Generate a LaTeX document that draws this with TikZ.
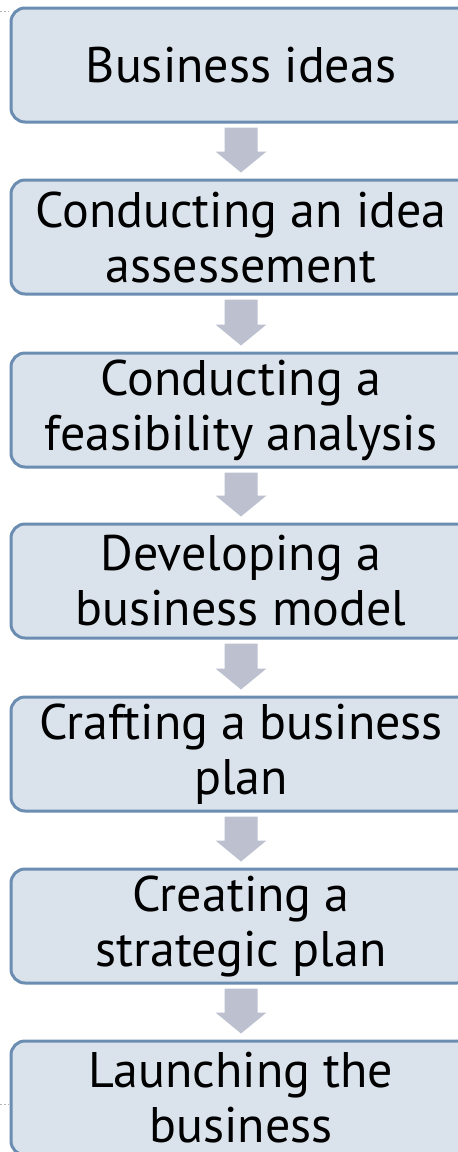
\documentclass[tikz,border=0pt]{standalone}
\usepackage{fontspec}
\setmainfont{PT Sans}
\usetikzlibrary{calc}
\definecolor{boxfill}{HTML}{DAE3EC}
\definecolor{boxline}{HTML}{6A8DB1}
\definecolor{arrowfill}{HTML}{BDC1CF}
\tikzset{
  stepbox/.style={draw=boxline, fill=boxfill, line width=3pt, rounded corners=14pt,
    minimum width=460pt, minimum height=114pt, inner sep=0pt, align=center,
    font=\fontsize{50}{55}\selectfont, text=black},
  flowfill/.style={fill=arrowfill, draw=none}
}
\newcommand\flowarrow[2]{%
  \path[flowfill] ($(#1.south)+(-16.5,-4)$) -- ($(#1.south)+(16.5,-4)$)
    -- ($(#2.north)+(16.5,27)$) -- ($(#2.north)+(25.5,27)$)
    -- ($(#2.north)+(0,6)$) -- ($(#2.north)+(-25.5,27)$)
    -- ($(#2.north)+(-16.5,27)$) -- cycle;}
\begin{document}
\begin{tikzpicture}[x=1pt,y=1pt]
\useasboundingbox (0,0) rectangle (458,-1152);
\fill[white] (0,0) rectangle (458,-1152);
\clip (0,0) rectangle (458,-1152);
\node[stepbox] (b1) at (241,-65) {Business ideas};
\node[stepbox] (b2) at (241,-237) {Conducting an idea\\assessement};
\node[stepbox] (b3) at (241,-410) {Conducting a\\feasibility analysis};
\node[stepbox] (b4) at (241,-581) {Developing a\\business model};
\node[stepbox] (b5) at (241,-754) {Crafting a business\\plan};
\node[stepbox] (b6) at (241,-926) {Creating a\\strategic plan};
\node[stepbox] (b7) at (241,-1098) {Launching the\\business};
\flowarrow{b1}{b2}
\flowarrow{b2}{b3}
\flowarrow{b3}{b4}
\flowarrow{b4}{b5}
\flowarrow{b5}{b6}
\flowarrow{b6}{b7}
\draw[gray!60, dashed, dash pattern=on 2pt off 2pt] (0,-11) -- (9,-11);
\draw[gray!60, dashed, dash pattern=on 2pt off 2pt] (0,-1104) -- (9,-1104);
\end{tikzpicture}
\end{document}
